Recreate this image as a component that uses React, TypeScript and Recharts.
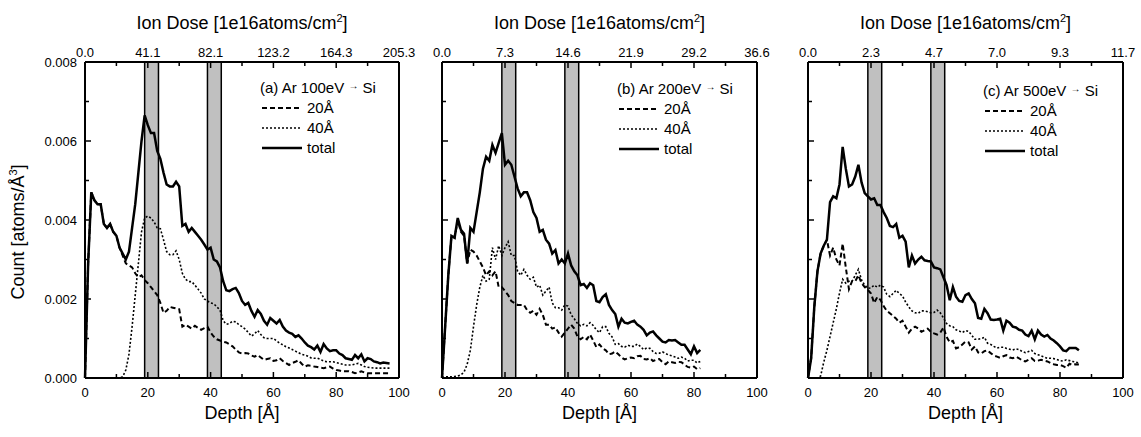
import React from 'react';
import { ComposedChart, Line, XAxis, YAxis, ReferenceArea } from 'recharts';

const FONT = '"Liberation Sans", Arial, Helvetica, sans-serif';

// depth in Å; counts are in units of 1e-3 atoms/Å³
const depthA = [
  0, 1, 2, 3, 4, 5, 6, 7, 8, 9, 10, 11, 12, 13, 14, 15, 16, 17, 18, 19,
  20, 21, 22, 23, 24, 25, 26, 27, 28, 29, 30, 31, 32, 33, 34, 35, 36, 37, 38, 39,
  40, 41, 42, 43, 44, 45, 46, 47, 48, 49, 50, 51, 52, 53, 54, 55, 56, 57, 58, 59,
  60, 61, 62, 63, 64, 65, 66, 67, 68, 69, 70, 71, 72, 73, 74, 75, 76, 77, 78, 79,
  80, 81, 82, 83, 84, 85, 86, 87, 88, 89, 90, 91, 92, 93, 94, 95, 96, 97,
];
const totalA = [
  0, 2.9, 4.7, 4.5, 4.4, 4.4, 3.9, 3.8, 3.9, 3.7, 3.6, 3.3, 3.15, 3.0, 3.2, 3.8, 4.4, 5.2, 6.0, 6.65,
  6.4, 6.2, 6.2, 5.75, 5.55, 5.2, 4.9, 4.85, 4.85, 4.97, 4.85, 3.85, 3.9, 3.7, 3.8, 3.7, 3.6, 3.5, 3.38, 3.25,
  3.3, 3.0, 2.95, 2.8, 2.45, 2.22, 2.2, 2.25, 2.28, 2.15, 1.95, 1.85, 1.9, 1.7, 1.55, 1.72, 1.62, 1.45, 1.35, 1.52,
  1.45, 1.38, 1.47, 1.3, 1.2, 1.15, 1.12, 1.04, 1.08, 1.0, 0.9, 0.82, 0.78, 0.72, 0.82, 0.66, 0.86, 0.75, 0.68, 0.7,
  0.7, 0.62, 0.58, 0.5, 0.48, 0.46, 0.58, 0.5, 0.6, 0.42, 0.5, 0.48, 0.42, 0.4, 0.37, 0.39, 0.38, 0.37,
];
const a20 = [
  0, 2.9, 4.7, 4.5, 4.4, 4.4, 3.9, 3.8, 3.9, 3.7, 3.6, 3.3, 3.1, 2.9, 2.85, 2.8, 2.65, 2.55, 2.6, 2.48,
  2.4, 2.3, 2.2, 2.1, 1.9, 1.65, 1.7, 1.8, 1.78, 1.76, 1.74, 1.3, 1.35, 1.3, 1.25, 1.32, 1.27, 1.22, 1.26, 1.3,
  1.15, 1.05, 0.98, 0.95, 0.92, 0.9, 0.85, 0.8, 0.72, 0.65, 0.62, 0.63, 0.62, 0.57, 0.54, 0.58, 0.52, 0.46, 0.48, 0.5,
  0.43, 0.45, 0.5, 0.43, 0.38, 0.33, 0.38, 0.41, 0.45, 0.36, 0.29, 0.32, 0.31, 0.29, 0.28, 0.26, 0.25, 0.27, 0.29, 0.24,
  0.2, 0.19, 0.17, 0.17, 0.17, 0.15, 0.12, 0.14, 0.17, 0.14, 0.12, 0.12, 0.12, 0.12, 0.12, 0.12, 0.12, 0.12,
];
const a40 = [
  0, 0, 0, 0, 0, 0, 0, 0, 0, 0, 0, 0, 0.03, 0.2, 0.6, 1.3, 2.1, 2.9, 3.7, 4.05,
  4.1, 4.05, 3.95, 3.8, 3.78, 3.5, 3.2, 3.12, 3.12, 3.22, 3.0, 2.65, 2.5, 2.44, 2.44, 2.35, 2.25, 2.15, 2.0, 1.95,
  1.9, 1.88, 1.8, 1.72, 1.45, 1.36, 1.38, 1.44, 1.42, 1.35, 1.3, 1.24, 1.15, 1.06, 1.12, 1.2, 1.1, 1.02, 1.0, 1.0,
  1.0, 0.94, 0.88, 0.84, 0.79, 0.76, 0.72, 0.68, 0.64, 0.6, 0.58, 0.55, 0.51, 0.5, 0.5, 0.47, 0.43, 0.41, 0.41, 0.41,
  0.39, 0.37, 0.35, 0.33, 0.33, 0.33, 0.35, 0.37, 0.33, 0.29, 0.27, 0.26, 0.25, 0.25, 0.25, 0.25, 0.25, 0.25,
];

const depthB = [
  0, 1, 2, 3, 4, 5, 6, 7, 8, 9, 10, 11, 12, 13, 14, 15, 16, 17, 18, 19,
  20, 21, 22, 23, 24, 25, 26, 27, 28, 29, 30, 31, 32, 33, 34, 35, 36, 37, 38, 39,
  40, 41, 42, 43, 44, 45, 46, 47, 48, 49, 50, 51, 52, 53, 54, 55, 56, 57, 58, 59,
  60, 61, 62, 63, 64, 65, 66, 67, 68, 69, 70, 71, 72, 73, 74, 75, 76, 77, 78, 79,
  80, 81, 82,
];
const totalB = [
  0, 1.3, 2.6, 3.6, 3.55, 4.05, 3.75, 3.65, 2.9, 3.8, 3.7, 4.2, 4.7, 5.3, 5.6, 5.5, 5.9, 5.7, 5.95, 6.2,
  5.4, 5.5, 5.4, 5.1, 4.8, 4.6, 4.7, 4.7, 4.5, 4.2, 4.05, 3.7, 3.75, 3.5, 3.4, 3.15, 3.24, 2.9, 3.0, 2.9,
  3.15, 2.85, 2.7, 2.6, 2.35, 2.38, 2.28, 2.4, 2.35, 1.95, 1.92, 2.05, 2.12, 1.85, 1.72, 1.62, 1.3, 1.5, 1.4, 1.38,
  1.42, 1.45, 1.35, 1.3, 1.22, 1.08, 1.15, 1.18, 1.08, 1.0, 0.92, 0.9, 0.96, 0.95, 0.96, 0.9, 0.84, 0.84, 0.72, 0.6,
  0.8, 0.63, 0.71,
];
const b20 = [
  0, 1.3, 2.6, 3.6, 3.55, 4.0, 3.7, 3.6, 2.9, 3.25, 3.2, 3.1, 2.95, 2.8, 2.6, 2.7, 2.6, 2.7, 2.3, 2.3,
  2.2, 2.1, 1.95, 1.9, 1.85, 1.85, 1.85, 1.72, 1.65, 1.7, 1.6, 1.75, 1.6, 1.35, 1.35, 1.25, 1.28, 1.15, 1.05, 1.15,
  1.25, 1.35, 1.25, 1.05, 0.98, 1.04, 0.98, 1.1, 0.95, 0.78, 0.85, 0.75, 0.7, 0.6, 0.62, 0.67, 0.6, 0.52, 0.47, 0.5,
  0.52, 0.5, 0.55, 0.56, 0.48, 0.47, 0.5, 0.43, 0.46, 0.48, 0.4, 0.35, 0.42, 0.4, 0.38, 0.41, 0.4, 0.34, 0.28, 0.26,
  0.29, 0.22, 0.25,
];
const b40 = [
  0.02, 0.03, 0.03, 0.03, 0.04, 0.05, 0.08, 0.15, 0.35, 0.7, 1.3, 1.85, 2.3, 2.6, 2.45, 2.5, 3.3, 3.0, 3.35, 3.1,
  3.3, 3.45, 3.1, 3.1, 2.7, 2.6, 2.75, 2.6, 2.5, 2.55, 2.3, 2.35, 2.1, 2.2, 2.3, 1.9, 1.78, 1.78, 1.72, 1.85,
  1.82, 1.6, 1.5, 1.38, 1.32, 1.36, 1.32, 1.4, 1.33, 1.22, 1.15, 1.3, 1.3, 1.13, 1.04, 0.85, 0.87, 0.8, 0.78, 0.83,
  0.8, 0.8, 0.86, 0.8, 0.72, 0.76, 0.75, 0.67, 0.62, 0.63, 0.66, 0.62, 0.58, 0.56, 0.53, 0.5, 0.53, 0.5, 0.43, 0.45,
  0.45, 0.38, 0.42,
];

const depthC = [
  0, 1, 2, 3, 4, 5, 6, 7, 8, 9, 10, 11, 12, 13, 14, 15, 16, 17, 18, 19,
  20, 21, 22, 23, 24, 25, 26, 27, 28, 29, 30, 31, 32, 33, 34, 35, 36, 37, 38, 39,
  40, 41, 42, 43, 44, 45, 46, 47, 48, 49, 50, 51, 52, 53, 54, 55, 56, 57, 58, 59,
  60, 61, 62, 63, 64, 65, 66, 67, 68, 69, 70, 71, 72, 73, 74, 75, 76, 77, 78, 79,
  80, 81, 82, 83, 84, 85, 86,
];
const totalC = [
  0, 0.5, 1.8, 2.7, 3.15, 3.35, 3.5, 4.45, 4.6, 4.55, 4.9, 5.85, 5.3, 4.85, 4.9, 5.1, 5.4, 4.95, 4.68, 4.6,
  4.52, 4.55, 4.38, 4.38, 4.2, 4.05, 3.85, 3.82, 3.9, 3.55, 3.6, 3.45, 2.8, 3.1, 2.9, 3.0, 3.07, 2.98, 2.96, 2.95,
  2.8, 2.78, 2.75, 2.55, 2.35, 1.97, 2.3, 2.06, 1.95, 1.93, 2.1, 2.14, 2.0, 1.89, 1.52, 1.5, 1.75, 1.64, 1.48, 1.47,
  1.48, 1.5, 1.2, 1.45, 1.4, 1.3, 1.28, 1.22, 1.2, 1.1, 1.06, 1.2, 0.98, 1.2, 1.1, 1.05, 1.09, 1.0, 0.95, 0.88,
  0.8, 0.7, 0.68, 0.76, 0.76, 0.76, 0.7,
];
const c20 = [
  0, 0.5, 1.8, 2.7, 3.15, 3.35, 3.5, 3.1, 3.3, 3.0, 2.85, 3.4, 2.8, 2.25, 2.45, 2.45, 2.6, 2.4, 2.3, 2.23,
  2.14, 1.9, 2.05, 1.98, 1.82, 1.7, 1.64, 1.57, 1.5, 1.4, 1.45, 1.3, 1.15, 1.25, 1.3, 1.25, 1.17, 1.21, 1.25, 1.17,
  1.13, 1.1, 1.15, 1.28, 1.04, 0.9, 0.94, 0.75, 0.78, 0.85, 0.92, 0.9, 0.72, 0.8, 0.65, 0.62, 0.68, 0.7, 0.63, 0.57,
  0.54, 0.51, 0.55, 0.58, 0.52, 0.5, 0.54, 0.5, 0.44, 0.42, 0.46, 0.5, 0.43, 0.44, 0.46, 0.44, 0.42, 0.38, 0.35, 0.33,
  0.33, 0.3, 0.26, 0.36, 0.33, 0.35, 0.34,
];
const c40 = [
  0, 0, 0, 0, 0.05, 0.4, 0.7, 1.05, 1.4, 1.75, 2.15, 2.5, 2.4, 2.45, 2.45, 2.6, 2.75, 2.48, 2.35, 2.27,
  2.28, 2.35, 2.3, 2.35, 2.3, 2.12, 2.06, 2.14, 2.22, 2.14, 2.08, 1.92, 1.8, 1.7, 1.65, 1.64, 1.7, 1.7, 1.68, 1.65,
  1.66, 1.72, 1.65, 1.52, 1.38, 1.32, 1.3, 1.22, 1.19, 1.15, 1.2, 1.18, 1.08, 0.98, 0.98, 1.0, 1.03, 0.88, 0.85, 0.8,
  0.76, 0.78, 0.78, 0.75, 0.73, 0.71, 0.74, 0.72, 0.67, 0.64, 0.67, 0.7, 0.62, 0.59, 0.56, 0.53, 0.5, 0.5, 0.49, 0.47,
  0.44, 0.43, 0.46, 0.44, 0.42, 0.4, 0.38,
];

const depthTicks = [0, 10, 20, 30, 40, 50, 60, 70, 80, 90, 100];
const countTicks = [0, 1, 2, 3, 4, 5, 6, 7, 8];
const countLabels: Record<number, string> = { 0: '0.000', 2: '0.002', 4: '0.004', 6: '0.006', 8: '0.008' };
const doseA: Record<number, string> = { 0: '0.0', 20: '41.1', 40: '82.1', 60: '123.2', 80: '164.3', 100: '205.3' };
const doseB: Record<number, string> = { 0: '0.0', 20: '7.3', 40: '14.6', 60: '21.9', 80: '29.2', 100: '36.6' };
const doseC: Record<number, string> = { 0: '0.0', 20: '2.3', 40: '4.7', 60: '7.0', 80: '9.3', 100: '11.7' };
const bands = [
  [19, 23.4],
  [39, 43.4],
];

const rows = (depth: number[], s20: number[], s40: number[], total: number[]) =>
  depth.map((d, i) => ({ depth: d, s20: s20[i], s40: s40[i], total: total[i] }));

const H = 437;
const TOP = 62;
const BOTTOM = 59;
// room handed to the axes themselves (the rest of the offset is margin)
const AX_H = 30;
const AX_LW = 40;
const AX_RW = 10;

function BottomTick({ x, y, payload }: any) {
  const major = payload.value % 20 === 0;
  return (
    <g>
      <line x1={x} x2={x} y1={y} y2={y - (major ? 6 : 4)} stroke="#000" strokeWidth={1.5} />
      {major && (
        <text x={x} y={y + 19} textAnchor="middle" fontSize={13} fontFamily={FONT} fill="#000">
          {payload.value}
        </text>
      )}
    </g>
  );
}

function makeTopTick(labels: Record<number, string>) {
  return function TopTick({ x, y, payload }: any) {
    const major = payload.value % 20 === 0;
    return (
      <g>
        <line x1={x} x2={x} y1={y} y2={y + (major ? 6 : 4)} stroke="#000" strokeWidth={1.5} />
        {major && (
          <text x={x} y={y - 5} textAnchor="middle" fontSize={13} fontFamily={FONT} fill="#000">
            {labels[payload.value]}
          </text>
        )}
      </g>
    );
  };
}

function makeLeftTick(showLabels: boolean) {
  return function LeftTick({ x, y, payload }: any) {
    const major = payload.value % 2 === 0;
    return (
      <g>
        <line x1={x} x2={x + (major ? 6 : 4)} y1={y} y2={y} stroke="#000" strokeWidth={1.5} />
        {showLabels && major && (
          <text x={x - 8} y={y + 4.5} textAnchor="end" fontSize={13} fontFamily={FONT} fill="#000">
            {countLabels[payload.value]}
          </text>
        )}
      </g>
    );
  };
}

function RightTick({ x, y, payload }: any) {
  const major = payload.value % 2 === 0;
  return <line x1={x} x2={x - (major ? 6 : 4)} y1={y} y2={y} stroke="#000" strokeWidth={1.5} />;
}

function LegendBox({ left, top, title }: { left: number; top: number; title: string }) {
  const items = [
    { label: '20Å', dash: '5 3', w: 2 },
    { label: '40Å', dash: '2 2', w: 1.6 },
    { label: 'total', dash: undefined, w: 2.5 },
  ];
  const [head, tail] = title.split('→');
  return (
    <div style={{ position: 'absolute', left, top, fontFamily: FONT, fontSize: 15, color: '#000', lineHeight: '20px' }}>
      <div style={{ whiteSpace: 'nowrap' }}>
        {head}
        <span style={{ fontSize: 10, verticalAlign: 4 }}>→</span>
        {tail}
      </div>
      {items.map((it) => (
        <div key={it.label} style={{ display: 'flex', alignItems: 'center', height: 20 }}>
          <svg width={42} height={6} style={{ marginLeft: 2, marginRight: 3 }}>
            <line x1={0} x2={40} y1={3} y2={3} stroke="#000" strokeWidth={it.w} strokeDasharray={it.dash} />
          </svg>
          <span>{it.label}</span>
        </div>
      ))}
    </div>
  );
}

interface PanelProps {
  left: number;
  width: number;
  marginLeft: number;
  marginRight: number;
  data: { depth: number; s20: number; s40: number; total: number }[];
  dose: Record<number, string>;
  showYLabels: boolean;
  legendTitle: string;
  legendTop: number;
}

function Panel({ left, width, marginLeft, marginRight, data, dose, showYLabels, legendTitle, legendTop }: PanelProps) {
  const plotLeft = left + marginLeft;
  const plotRight = left + width - marginRight;
  const center = (plotLeft + plotRight) / 2;
  const TopTick = makeTopTick(dose);
  const LeftTick = makeLeftTick(showYLabels);
  const axisLine = { stroke: '#000', strokeWidth: 2 };
  const layer: React.CSSProperties = { position: 'absolute', left, top: 0 };
  return (
    <>
      {/* grey bands sit in their own chart underneath, so the curves stay on top */}
      <div style={layer}>
        <ComposedChart width={width} height={H} data={data} margin={{ top: TOP, right: marginRight, bottom: BOTTOM, left: marginLeft }}>
          <XAxis xAxisId="b" dataKey="depth" type="number" domain={[0, 100]} allowDataOverflow
            height={0} axisLine={false} tickLine={false} tick={false} />
          <YAxis yAxisId="l" type="number" domain={[0, 8]} allowDataOverflow
            width={0} axisLine={false} tickLine={false} tick={false} />
          {bands.map(([x1, x2]) => (
            <ReferenceArea key={x1} xAxisId="b" yAxisId="l" x1={x1} x2={x2} y1={0} y2={8}
              fill="#c0c0c0" fillOpacity={1} stroke="#000" strokeWidth={1.5} />
          ))}
          <Line xAxisId="b" yAxisId="l" dataKey="total" stroke="none" dot={false} isAnimationActive={false} />
        </ComposedChart>
      </div>
      <div style={layer}>
        <ComposedChart width={width} height={H} data={data}
          margin={{ top: TOP - AX_H, right: marginRight - AX_RW, bottom: BOTTOM - AX_H, left: marginLeft - AX_LW }}>
          <XAxis xAxisId="b" dataKey="depth" type="number" domain={[0, 100]} ticks={depthTicks} interval={0}
            height={AX_H} tickSize={0} tickMargin={0} axisLine={axisLine} tickLine={false}
            tick={(p: any) => <BottomTick {...p} />} />
          <XAxis xAxisId="t" orientation="top" dataKey="depth" type="number" domain={[0, 100]} ticks={depthTicks} interval={0}
            height={AX_H} tickSize={0} tickMargin={0} axisLine={axisLine} tickLine={false}
            tick={(p: any) => <TopTick {...p} />} />
          <YAxis yAxisId="l" type="number" domain={[0, 8]} ticks={countTicks} interval={0}
            width={AX_LW} tickSize={0} tickMargin={0} axisLine={axisLine} tickLine={false}
            tick={(p: any) => <LeftTick {...p} />} />
          <YAxis yAxisId="r" orientation="right" type="number" domain={[0, 8]} ticks={countTicks} interval={0}
            width={AX_RW} tickSize={0} tickMargin={0} axisLine={axisLine} tickLine={false}
            tick={(p: any) => <RightTick {...p} />} />
          <Line xAxisId="b" yAxisId="l" dataKey="s20" stroke="#000" strokeWidth={2} strokeDasharray="5 3"
            dot={false} isAnimationActive={false} type="linear" />
          <Line xAxisId="b" yAxisId="l" dataKey="s40" stroke="#000" strokeWidth={1.6} strokeDasharray="2 2"
            dot={false} isAnimationActive={false} type="linear" />
          <Line xAxisId="b" yAxisId="l" dataKey="total" stroke="#000" strokeWidth={2.5}
            dot={false} isAnimationActive={false} type="linear" />
        </ComposedChart>
      </div>
      <LegendBox left={plotLeft + 175} top={legendTop} title={legendTitle} />
      <div style={{ position: 'absolute', left: center, top: 23, transform: 'translate(-50%, -50%)', fontFamily: FONT, fontSize: 18, whiteSpace: 'nowrap' }}>
        Ion Dose [1e16atoms/cm<sup style={{ fontSize: 11 }}>2</sup>]
      </div>
      <div style={{ position: 'absolute', left: center, top: 413, transform: 'translate(-50%, -50%)', fontFamily: FONT, fontSize: 18, whiteSpace: 'nowrap' }}>
        Depth [Å]
      </div>
    </>
  );
}

export default function App() {
  return (
    <div style={{ position: 'absolute', left: 0, top: 0, width: 1141, height: H, background: '#fff', overflow: 'hidden' }}>
      <Panel left={0} width={420} marginLeft={85} marginRight={21} data={rows(depthA, a20, a40, totalA)}
        dose={doseA} showYLabels legendTitle="(a) Ar 100eV → Si" legendTop={76} />
      <Panel left={380} width={400} marginLeft={62} marginRight={23} data={rows(depthB, b20, b40, totalB)}
        dose={doseB} showYLabels={false} legendTitle="(b) Ar 200eV → Si" legendTop={77} />
      <Panel left={760} width={381} marginLeft={48} marginRight={18} data={rows(depthC, c20, c40, totalC)}
        dose={doseC} showYLabels={false} legendTitle="(c) Ar 500eV → Si" legendTop={79} />
      <div style={{ position: 'absolute', left: 18, top: 232, transform: 'translate(-50%, -50%) rotate(-90deg)', fontFamily: FONT, fontSize: 18, whiteSpace: 'nowrap' }}>
        Count [atoms/Å<sup style={{ fontSize: 11 }}>3</sup>]
      </div>
    </div>
  );
}
